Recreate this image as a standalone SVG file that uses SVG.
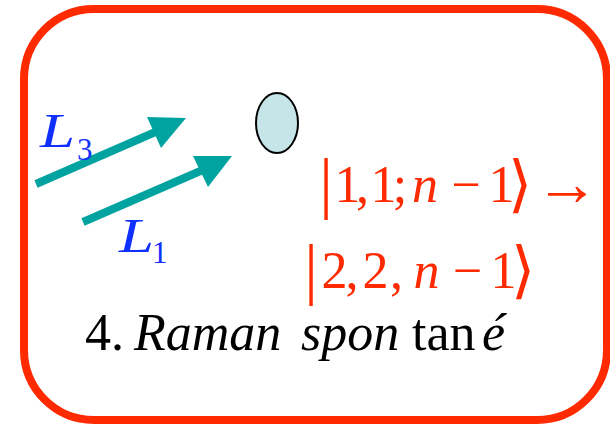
<svg xmlns="http://www.w3.org/2000/svg" width="610" height="428" viewBox="0 0 610 428">
<style>
text{font-family:'Liberation Serif','Times New Roman',serif;}
.i{font-style:italic;}
.red{fill:#FF2A00;}
.blue{fill:#1030FF;}
.arr{stroke:#00A3A0;stroke-width:8;fill:none;}
.head{fill:#00A3A0;}
</style>
<rect x="24" y="9" width="583" height="411" rx="70" ry="70" fill="#FFFFFF" stroke="#FF2A00" stroke-width="8"/>
<g id="atom">
<ellipse cx="277" cy="123" rx="21" ry="30" fill="#C5E5E8" stroke="#000000" stroke-width="2"/>
</g>
<g id="connectors">
<line class="arr" x1="36" y1="184" x2="160" y2="130"/>
<polygon class="head" points="147,117 186,118 161,148"/>
<line class="arr" x1="83" y1="222" x2="205" y2="169"/>
<polygon class="head" points="193,156 232,156 208,187"/>
</g>
<g id="labelL3">
<text class="blue" font-size="48"><tspan class="i" x="40" y="147" textLength="35" lengthAdjust="spacingAndGlyphs">L</tspan><tspan x="77" y="160" font-size="31">3</tspan></text>
</g>
<g id="labelL1">
<text class="blue" font-size="48"><tspan class="i" x="119" y="252" textLength="35" lengthAdjust="spacingAndGlyphs">L</tspan><tspan x="152" y="263" font-size="31">1</tspan></text>
</g>
<g id="state1">
<text class="red" font-size="52" text-anchor="middle"><tspan x="326" y="206" font-size="68">|</tspan><tspan x="347.5" y="202">1</tspan><tspan x="362.5" y="202">,</tspan><tspan x="383.5" y="202">1</tspan><tspan x="400" y="202">;</tspan><tspan class="i" x="425" y="202">n</tspan><tspan x="466" y="202">−</tspan><tspan x="501.5" y="202">1</tspan><tspan x="520" y="205" font-size="62">⟩</tspan></text>
<text class="red" font-size="64" text-anchor="middle" x="567" y="205">→</text>
</g>
<g id="state2">
<text class="red" font-size="52" text-anchor="middle"><tspan x="311" y="292" font-size="68">|</tspan><tspan x="334.5" y="288">2</tspan><tspan x="352" y="288">,</tspan><tspan x="375.5" y="288">2</tspan><tspan x="396.5" y="288">,</tspan><tspan class="i" x="426.5" y="288">n</tspan><tspan x="467.5" y="288">−</tspan><tspan x="503.5" y="288">1</tspan><tspan x="522.5" y="291" font-size="62">⟩</tspan></text>
</g>
<g id="caption">
<text font-size="52" fill="#000000"><tspan x="85" y="350">4.</tspan><tspan class="i" x="134" y="350">Raman</tspan><tspan class="i" x="301" y="350">spon</tspan><tspan x="412" y="350">tan</tspan><tspan class="i" x="482" y="350">é</tspan></text>
</g>
</svg>
